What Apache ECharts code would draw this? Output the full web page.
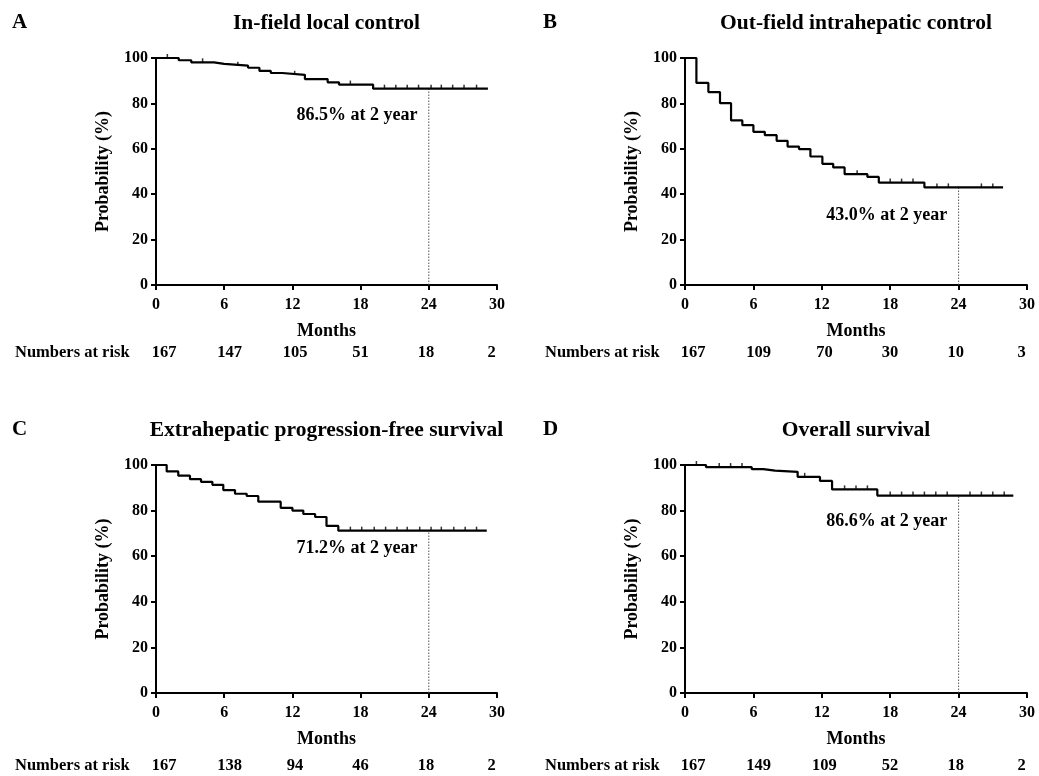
<!DOCTYPE html>
<html><head><meta charset="utf-8">
<script src="https://cdn.jsdelivr.net/npm/echarts@6/dist/echarts.min.js"></script>
<style>html,body{margin:0;padding:0;background:#fff}#c{width:1039px;height:776px}</style>
</head><body><div id="c"></div>
<script>
// ---- data ----
const panelLetters = ['A','B','C','D'];
const panelTitles = ['In-field local control','Out-field intrahepatic control','Extrahepatic progression-free survival','Overall survival'];
const xTicks = [0,6,12,18,24,30];
const yTicks = [0,20,40,60,80,100];

const timesA = [0, 2.0, 3.1, 5.1, 6.0, 8.1, 9.1, 10.1, 11.1, 13.1, 15.1, 16.1, 19.1, 29.2];
const survA  = [100, 99.0, 98.1, 97.4, 96.6, 95.7, 94.3, 93.4, 92.6, 90.7, 89.3, 88.3, 86.5, 86.5];
const censorA = [1.0, 4.1, 7.2, 12.2, 17.1, 20.1, 21.1, 22.1, 23.1, 24.2, 25.1, 26.1, 27.1, 28.2];

const timesB = [0, 1.0, 2.05, 3.07, 4.04, 5.03, 6.0, 7.0, 8.04, 9.0, 10.0, 11.0, 12.05, 13.0, 14.0, 16.0, 17.0, 21.0, 27.9];
const survB  = [100, 89.0, 85.0, 80.1, 72.5, 70.4, 67.5, 66.0, 63.5, 61.0, 59.9, 56.6, 53.4, 51.8, 48.8, 47.6, 45.1, 43.0, 43.0];
const censorB = [15.1, 18.0, 19.0, 20.0, 22.1, 23.1, 26.0, 27.0];

const timesC = [0, 0.94, 1.96, 2.99, 3.96, 4.96, 5.92, 6.95, 7.98, 9.0, 10.97, 12.0, 12.96, 14.0, 15.0, 16.04, 29.1];
const survC  = [100, 97.2, 95.3, 93.8, 92.6, 91.3, 89.0, 87.4, 86.4, 83.9, 81.2, 80.0, 78.5, 77.2, 73.3, 71.2, 71.2];
const censorC = [17.1, 18.1, 19.2, 20.2, 21.2, 22.1, 23.2, 24.2, 25.1, 26.2, 27.2, 28.2];

const timesD = [0, 1.84, 5.85, 6.87, 7.9, 9.88, 11.84, 12.9, 16.87, 28.8];
const survD  = [100, 99.1, 98.2, 97.5, 97.0, 94.8, 93.0, 89.3, 86.6, 86.6];
const censorD = [1.0, 3.0, 4.0, 5.0, 10.5, 14.0, 15.0, 16.0, 18.0, 19.0, 20.0, 21.0, 22.0, 23.0, 25.0, 26.0, 27.0, 28.0];

const twoYearValues = [86.5, 43.0, 71.2, 86.6];
const twoYearLabels = ['86.5% at 2 year','43.0% at 2 year','71.2% at 2 year','86.6% at 2 year'];
const labelAnchorY = [74.9, 30.8, 63.4, 75.5];

const riskA = [167, 147, 105, 51, 18, 2];
const riskB = [167, 109, 70, 30, 10, 3];
const riskC = [167, 138, 94, 46, 18, 2];
const riskD = [167, 149, 109, 52, 18, 2];

// ---- layout ----
const F = 'Liberation Serif, Times New Roman, serif';
const grids = [
  {left:156, top:58, width:341, height:227},
  {left:685, top:58, width:342, height:227},
  {left:156, top:465, width:341, height:228},
  {left:685, top:465, width:342, height:228}
];
const panels = [
  {t:timesA, s:survA, c:censorA, r:riskA},
  {t:timesB, s:survB, c:censorB, r:riskB},
  {t:timesC, s:survC, c:censorC, r:riskC},
  {t:timesD, s:survD, c:censorD, r:riskD}
];
function survAt(p, m){ let v = p.s[0]; for(let i=0;i<p.t.length;i++){ if(p.t[i] <= m) v = p.s[i]; } return v; }

const xAxes = [], yAxes = [], series = [];
panels.forEach((p,i)=>{
  xAxes.push({gridIndex:i, type:'value', min:0, max:30, interval:6, splitLine:{show:false},
    axisLine:{lineStyle:{color:'#000', width:2}}, axisTick:{length:5, lineStyle:{color:'#000', width:2}},
    axisLabel:{color:'#000', fontFamily:F, fontWeight:'bold', fontSize:16, margin:12},
    name:'Months', nameLocation:'middle', nameGap:37,
    nameTextStyle:{color:'#000', fontFamily:F, fontWeight:'bold', fontSize:18}});
  yAxes.push({gridIndex:i, type:'value', min:0, max:100, interval:20, splitLine:{show:false},
    axisLine:{show:true, lineStyle:{color:'#000', width:2}}, axisTick:{show:true, length:5, lineStyle:{color:'#000', width:2}},
    axisLabel:{color:'#000', fontFamily:F, fontWeight:'bold', fontSize:16, margin:8},
    name:'Probability (%)', nameLocation:'middle', nameGap:44,
    nameTextStyle:{color:'#000', fontFamily:F, fontWeight:'bold', fontSize:18}});
  series.push({type:'line', xAxisIndex:i, yAxisIndex:i, step:'end', showSymbol:false, silent:true,
    data:p.t.map((t,k)=>[t,p.s[k]]), lineStyle:{color:'#000', width:2.2}, z:3});
  series.push({type:'scatter', xAxisIndex:i, yAxisIndex:i, symbol:'rect', symbolSize:[1.5,4], symbolOffset:[0,-2],
    itemStyle:{color:'#000'}, data:p.c.map(m=>[m, survAt(p,m)]), silent:true});
  series.push({type:'line', xAxisIndex:i, yAxisIndex:i, showSymbol:false, silent:true,
    data:[[24,0],[24,twoYearValues[i]]], lineStyle:{color:'#555', width:1, type:[1.5,1.5]}, z:1});
});

const chart = echarts.init(document.getElementById('c'), null, {renderer:'canvas'});
chart.setOption({animation:false, backgroundColor:'#fff', grid:grids, xAxis:xAxes, yAxis:yAxes, series:series});

const g = [];
const letterX = [12, 543, 12, 543];
const headY = [23, 23, 430, 430];
const riskY = [353, 353, 766, 766];
const riskLabelX = [15, 545, 15, 545];
panels.forEach((p,i)=>{
  g.push({type:'text', x:letterX[i], y:headY[i], style:{text:panelLetters[i], font:'bold 21px '+F, fill:'#000', textVerticalAlign:'middle'}});
  g.push({type:'text', x:grids[i].left+grids[i].width/2, y:headY[i], style:{text:panelTitles[i], font:'bold 21.5px '+F, fill:'#000', textAlign:'center', textVerticalAlign:'middle'}});
  g.push({type:'text', x:riskLabelX[i], y:riskY[i], style:{text:'Numbers at risk', font:'bold 16.5px '+F, fill:'#000', textVerticalAlign:'middle'}});
  xTicks.forEach((m,k)=>{
    const px = chart.convertToPixel({xAxisIndex:i}, m) + 8 - m*0.45;
    g.push({type:'text', x:px, y:riskY[i], style:{text:String(p.r[k]), font:'bold 16.5px '+F, fill:'#000', textAlign:'center', textVerticalAlign:'middle'}});
  });
  const lp = chart.convertToPixel({gridIndex:i}, [23, labelAnchorY[i]]);
  g.push({type:'text', x:lp[0], y:lp[1], z:10, style:{text:twoYearLabels[i], font:'bold 18px '+F, fill:'#000', textAlign:'right', textVerticalAlign:'middle'}});
});
chart.setOption({graphic:g});
</script></body></html>
